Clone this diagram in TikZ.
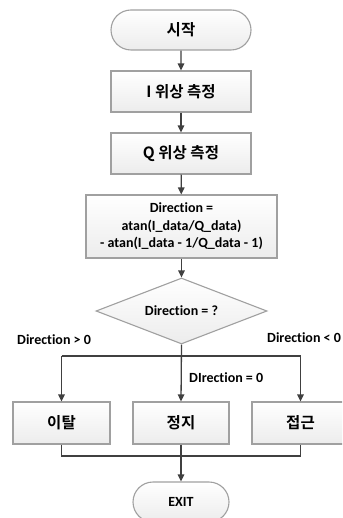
\documentclass[tikz,border=0pt]{standalone}
\usepackage{fontspec}
\setmainfont{Carlito}[Ligatures=NoCommon]
\newfontfamily\kr{Noto Sans CJK KR}[BoldFont={Noto Sans CJK KR Bold}]
\usetikzlibrary{arrows.meta,shapes.geometric,shapes.misc}
\definecolor{edgegray}{HTML}{A0A0A0}
\definecolor{linegray}{HTML}{404040}
\definecolor{boxfill}{HTML}{ECECEC}
\newcommand{\krtext}[1]{{\kr\fontsize{15.5}{18}\selectfont #1}}
\tikzset{
  base/.style={draw=edgegray, line width=1.1pt, top color=white, bottom color=boxfill, font=\bfseries\fontsize{14}{17.5}\selectfont, align=center, inner sep=0pt},
  procbox/.style={base, rectangle, minimum width=#1, minimum height=41pt},
  procbox/.default=140pt,
  term/.style={base, rounded rectangle, minimum width=#1, minimum height=40pt},
  decision/.style={base, diamond, aspect=2.6, minimum width=171pt, minimum height=66pt},
  flow/.style={draw=linegray, line width=1.3pt, -{Triangle[length=7pt,width=6.5pt]}},
  link/.style={draw=linegray, line width=1.3pt},
  lbl/.style={font=\bfseries\fontsize{14}{17}\selectfont, inner sep=0pt}
}
\begin{document}
\begin{tikzpicture}[x=1pt,y=-1pt]
\useasboundingbox (0,0) rectangle (342,518);
\clip (0,0) rectangle (342,518);
\fill[white] (0,0) rectangle (342,518);

% main column
\node[term=140pt] (start) at (181,30) {\krtext{시작}};
\node[procbox] (iph) at (181,91.5) {\krtext{I 위상 측정}};
\node[procbox] (qph) at (181,153.5) {\krtext{Q 위상 측정}};
\node[procbox=191pt, minimum height=63pt] (dir) at (181.5,226.5)
  {Direction =\\atan(I\_data/Q\_data)\\- atan(I\_data - 1/Q\_data - 1)};
\node[decision] (dec) at (181.5,311) {Direction = ?};

% outcome boxes
\node[procbox=97pt, minimum height=42pt] (away) at (61.5,423) {\krtext{이탈}};
\node[procbox=96pt, minimum height=42pt] (stop) at (181,423) {\krtext{정지}};
\node[procbox=97pt, minimum height=42pt] (near) at (300.5,423) {\krtext{접근}};

\node[term=96pt] (exit) at (181,502) {EXIT};

% branch and merge points
\coordinate (bl) at (61.5,356);
\coordinate (br) at (300.5,356);
\coordinate (ml) at (61.5,456);
\coordinate (mr) at (300.5,456);

\draw[flow] (start) -- (iph);
\draw[flow] (iph) -- (qph);
\draw[flow] (qph) -- (dir);
\draw[flow] (dir) -- (dec);
\draw[flow] (dec.south) -- (stop.north);
\draw[link] (bl) -- (br);
\draw[flow] (bl) -- (away.north);
\draw[flow] (br) -- (near.north);

\draw[link] (away.south) -- (ml) -- (mr) -- (near.south);
\draw[flow] (stop.south) -- (exit.north);

% branch labels
\node[lbl, anchor=west] (lgt) at (17,340) {Direction > 0};
\node[lbl, anchor=west] (llt) at (267,338) {Direction < 0};
\node[lbl, anchor=west] (leq) at (189,378) {DIrection = 0};
\end{tikzpicture}
\end{document}
